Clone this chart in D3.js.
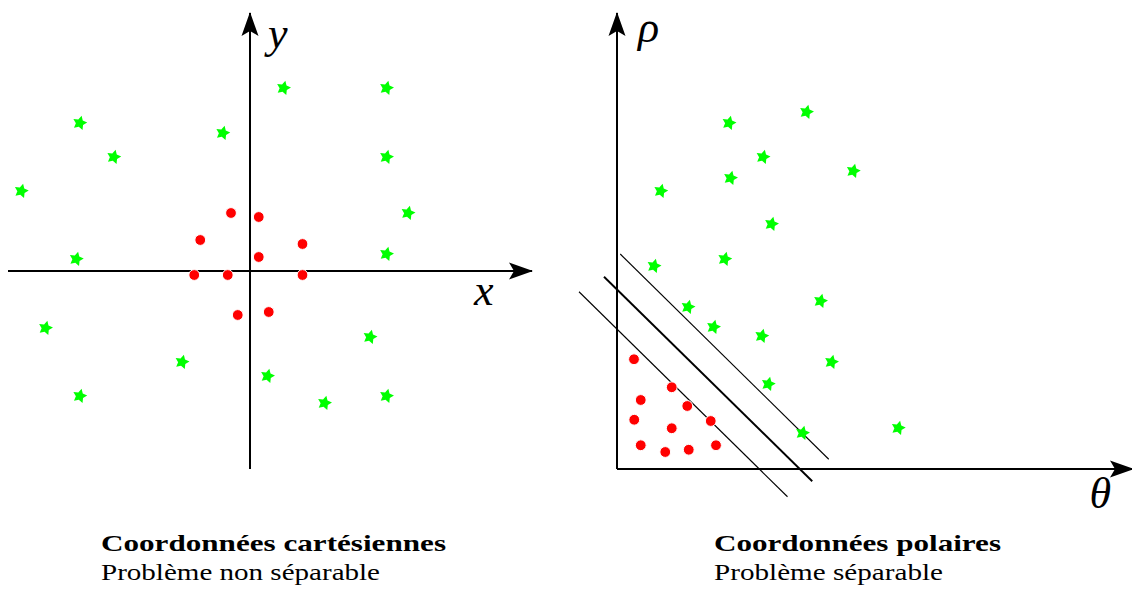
<!DOCTYPE html>
<html>
<head>
<meta charset="utf-8">
<script src="https://cdn.jsdelivr.net/npm/d3@7"></script>
<style>
  html, body { margin: 0; padding: 0; background: #fff; }
  svg { display: block; }
  .serif { font-family: "Liberation Serif", "Times New Roman", serif; }
</style>
</head>
<body>
<svg id="chart" width="1132" height="589"></svg>
<script>
// ---------- DATA ----------
// Cartesian panel: non-separable classes
const cartStarsX = [1.34, 5.46, -6.81, -1.09, -5.45, 5.46, -9.15, 6.32, -6.95, 5.46, -8.18, 4.80, -2.72, 0.70, -6.81, 2.98, 5.46];
const cartStarsY = [7.32, 7.32, 5.92, 5.52, 4.56, 4.56, 3.20, 2.32, 0.48, 0.68, -2.28, -2.64, -3.64, -4.20, -5.00, -5.28, -5.00];
const cartDotsX  = [-0.76, 0.35, -1.99, 2.10, 0.35, -2.23, -0.89, 2.10, -0.49, 0.75];
const cartDotsY  = [2.32, 2.16, 1.24, 1.08, 0.56, -0.16, -0.16, -0.16, -1.76, -1.64];

// Polar panel: separable classes
const polStarsTheta = [4.48, 7.58, 5.84, 4.54, 9.45, 1.75, 6.18, 1.48, 4.31, 2.84, 3.86, 5.79, 8.14, 8.58, 6.05, 7.42, 11.25];
const polStarsRho   = [13.84, 14.28, 12.48, 11.64, 11.92, 11.12, 9.80, 8.12, 8.40, 6.48, 5.68, 5.32, 6.72, 4.28, 3.40, 1.44, 1.64];
const polDotsTheta  = [0.68, 2.19, 0.95, 2.81, 0.69, 2.19, 3.75, 0.95, 1.93, 2.87, 3.96];
const polDotsRho    = [4.39, 3.27, 2.76, 2.52, 1.97, 1.63, 1.92, 0.95, 0.68, 0.77, 0.95];

// Separating lines (margin, separator, margin): [theta1, rho1, theta2, rho2]
const sepLineNames = ["upperMargin", "separator", "lowerMargin"];
const sepLines = [
  [0.13, 8.60, 8.47, 0.39],
  [-0.52, 7.69, 7.81, -0.49],
  [-1.52, 7.09, 6.82, -1.11]
];

// Texts
const axisLabels = ["x", "y", "ρ", "θ"];
const captionTitles = ["Coordonnées cartésiennes", "Coordonnées polaires"];
const captionSubtitles = ["Problème non séparable", "Problème séparable"];

// ---------- LAYOUT ----------
const svg = d3.select("#chart");
const GREEN = "#00ff00", RED = "#ff0000";

const xL = d3.scaleLinear().domain([-10, 10]).range([0, 500]);
const yL = d3.scaleLinear().domain([-10, 10]).range([521, 21]);
const tR = d3.scaleLinear().domain([0, 20]).range([617, 1117]);
const rR = d3.scaleLinear().domain([0, 18]).range([469, 19]);

// stealth arrowhead
const defs = svg.append("defs");
defs.append("marker")
  .attr("id", "arrow")
  .attr("viewBox", "-24 -9 26 18")
  .attr("refX", 0).attr("refY", 0)
  .attr("markerWidth", 26).attr("markerHeight", 18)
  .attr("markerUnits", "userSpaceOnUse")
  .attr("orient", "auto")
  .append("path")
  .attr("d", "M1,0 L-23,-8.5 L-18,0 L-23,8.5 Z")
  .attr("fill", "#000");

function arrowLine(g, x1, y1, x2, y2) {
  g.append("line")
    .attr("x1", x1).attr("y1", y1).attr("x2", x2).attr("y2", y2)
    .attr("stroke", "#000").attr("stroke-width", 2)
    .attr("marker-end", "url(#arrow)");
}

function starPath(r1, r2, rot) {
  const pts = [];
  for (let i = 0; i < 10; i++) {
    const r = i % 2 === 0 ? r1 : r2;
    const a = rot + i * Math.PI / 5 - Math.PI / 2;
    pts.push([r * Math.cos(a), r * Math.sin(a)]);
  }
  return "M" + pts.map(p => p[0].toFixed(2) + "," + p[1].toFixed(2)).join("L") + "Z";
}
const STAR = starPath(7.5, 3.9, 0.25);

function drawStars(g, xs, ys, sx, sy) {
  g.selectAll(null).data(xs.map((d, i) => [d, ys[i]])).enter()
    .append("path")
    .attr("d", STAR)
    .attr("transform", d => `translate(${sx(d[0])},${sy(d[1])})`)
    .attr("fill", GREEN);
}
function drawDots(g, xs, ys, sx, sy) {
  g.selectAll(null).data(xs.map((d, i) => [d, ys[i]])).enter()
    .append("circle")
    .attr("cx", d => sx(d[0])).attr("cy", d => sy(d[1]))
    .attr("r", 5.4)
    .attr("fill", RED).attr("stroke", "#fff").attr("stroke-width", 1);
}

function mathLabel(g, txt, x, y) {
  g.append("text").text(txt)
    .attr("class", "serif")
    .attr("x", x).attr("y", y)
    .style("font-style", "italic").style("font-size", "44px");
}

// ---------- LEFT PANEL ----------
const gL = svg.append("g");
arrowLine(gL, xL(-9.68), yL(0), xL(11.28), yL(0));
arrowLine(gL, xL(0), yL(-7.92), xL(0), yL(10.32));
drawStars(gL, cartStarsX, cartStarsY, xL, yL);
drawDots(gL, cartDotsX, cartDotsY, xL, yL);
mathLabel(gL, axisLabels[0], xL(8.96), yL(-1.36));
mathLabel(gL, axisLabels[1], xL(0.72), yL(8.92));

// ---------- RIGHT PANEL ----------
const gR = svg.append("g");
arrowLine(gR, tR(0), rR(0), tR(20.64), rR(0));
arrowLine(gR, tR(0), rR(0), tR(0), rR(18.24));

const sepWidths = [1.1, 1.9, 1.1];
gR.selectAll(null).data(sepLines).enter()
  .append("line")
  .attr("x1", d => tR(d[0])).attr("y1", d => rR(d[1]))
  .attr("x2", d => tR(d[2])).attr("y2", d => rR(d[3]))
  .attr("stroke", "#000")
  .attr("stroke-width", (d, i) => sepWidths[i]);

drawStars(gR, polStarsTheta, polStarsRho, tR, rR);
drawDots(gR, polDotsTheta, polDotsRho, tR, rR);
mathLabel(gR, axisLabels[2], tR(0.84), rR(17.1));
mathLabel(gR, axisLabels[3], tR(18.9), rR(-1.56));

// ---------- CAPTIONS ----------
const capX = [101, 714];
const titleLen = [345, 287];
const subLen = [279, 229];
captionTitles.forEach((t, i) => {
  svg.append("text").text(t)
    .attr("class", "serif")
    .attr("x", capX[i]).attr("y", 551)
    .style("font-weight", "bold").style("font-size", "23px")
    .attr("textLength", titleLen[i]).attr("lengthAdjust", "spacingAndGlyphs")
    .attr("fill", "#000");
  svg.append("text").text(captionSubtitles[i])
    .attr("class", "serif")
    .attr("x", capX[i]).attr("y", 580)
    .style("font-size", "23px")
    .attr("textLength", subLen[i]).attr("lengthAdjust", "spacingAndGlyphs")
    .attr("fill", "#000");
});
</script>
</body>
</html>
